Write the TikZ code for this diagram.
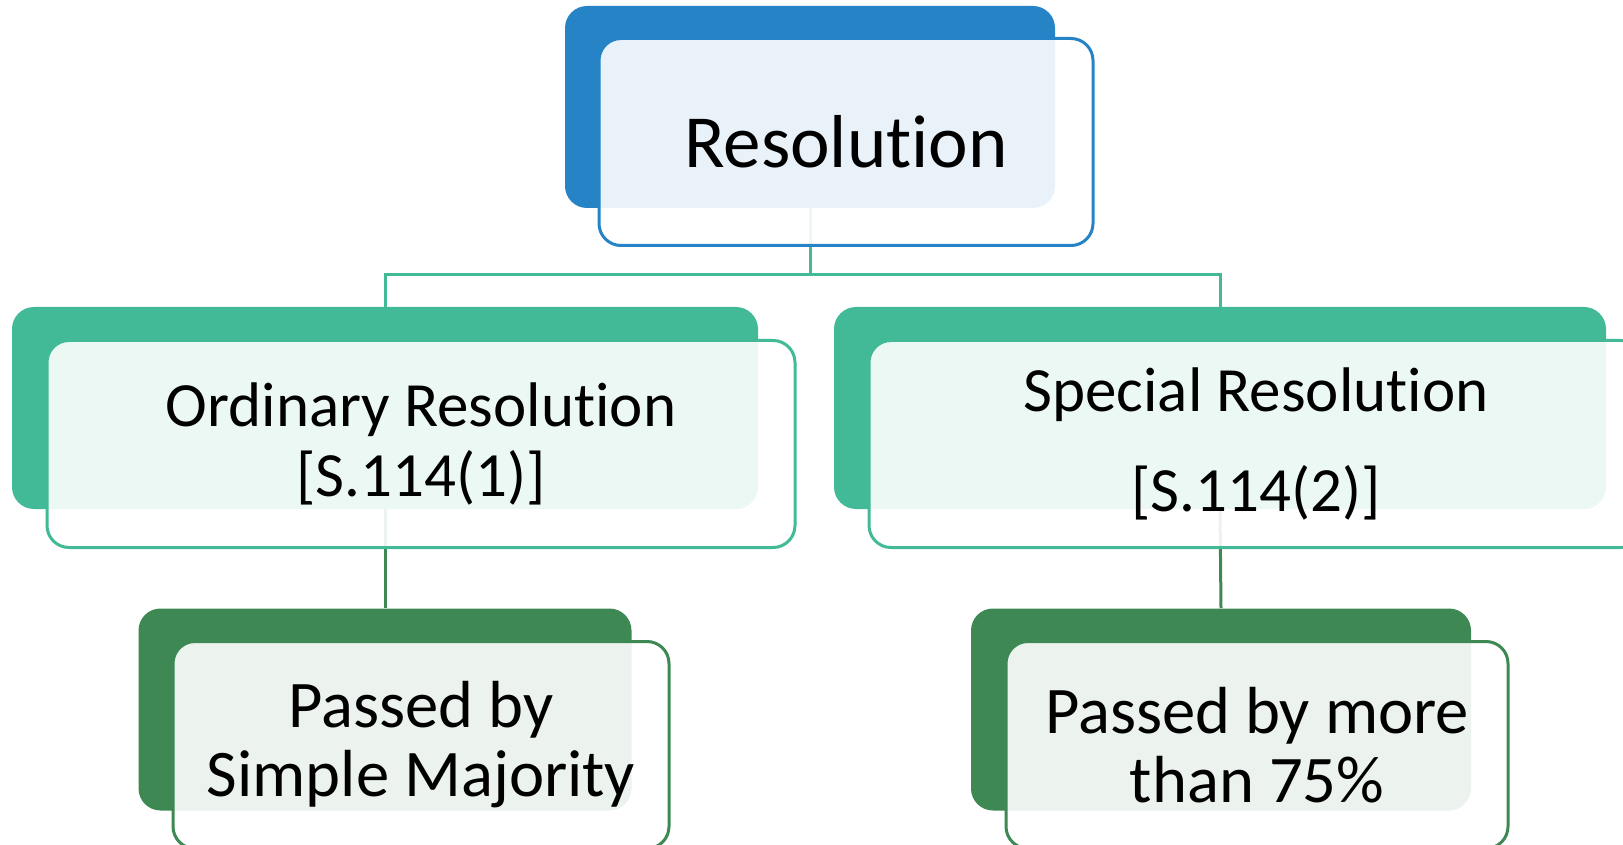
\documentclass[tikz,border=0pt]{standalone}
\usepackage{fontspec}
\setmainfont{Carlito}[Ligatures=NoCommon]

\definecolor{resblue}{HTML}{2683C6}
\definecolor{resteal}{HTML}{42BA97}
\definecolor{resgreen}{HTML}{3E8853}

\tikzset{
  back/.style={rectangle, rounded corners=11pt, inner sep=0pt, fill=#1},
  front/.style={rectangle, rounded corners=11pt, inner sep=0pt, draw=#1,
                line width=1.5pt, fill=white, fill opacity=0.9,
                text opacity=1, text=black, align=center},
  link/.style={line width=1.5pt, draw=#1},
}

\begin{document}
\begin{tikzpicture}[x=0.5pt,y=-0.5pt]
\useasboundingbox (0,0) rectangle (1623,845);

% coloured panels behind
\begin{scope}[every node/.append style={minimum height=101pt}]
    \node[back=resblue, minimum width=245pt] (res) at (810,107) {};

    \node[back=resteal, minimum width=373pt] (ord) at (385,408) {};
    \node[back=resteal, minimum width=386pt] (spec) at (1220,408) {};

    \node[back=resgreen, minimum width=246.5pt] (simple) at (385,709.5) {};
    \node[back=resgreen, minimum width=250pt] (more) at (1221,709.5) {};
\end{scope}

% connectors
\path[link=resteal] (res.south) -- ++(0,66) -| (ord.north);
\path[link=resteal] (res.south) -- ++(0,66) -| (spec.north);
\path[link=resgreen] (ord.south) -- (simple.north);
\path[link=resgreen] (spec.south) -- (more.north);

% outlined panels with the texts
\begin{scope}[every node/.append style={minimum height=103.5pt}]
    \node[front=resblue, minimum width=247pt, font=\fontsize{37.5}{45}\selectfont]
        (resT) at (846,142) {Resolution};

    \node[front=resteal, minimum width=374pt, font=\fontsize{31.5}{35}\selectfont]
        (ordT) at (421,444) {Ordinary Resolution\\{}[S.114(1)]};
    \node[front=resteal, minimum width=387pt, font=\fontsize{31.5}{35}\selectfont]
        (specT) at (1256,444) {Special Resolution\\[15pt][S.114(2)]};

    \node[front=resgreen, minimum width=248pt, font=\fontsize{33.3}{34.5}\selectfont]
        (simpleT) at (421,745) {Passed by\\Simple Majority};
    \node[front=resgreen, minimum width=251pt, font=\fontsize{33.3}{34.5}\selectfont]
        (moreT) at (1257,745) {Passed by more\\than 75\%};
\end{scope}
\end{tikzpicture}
\end{document}
